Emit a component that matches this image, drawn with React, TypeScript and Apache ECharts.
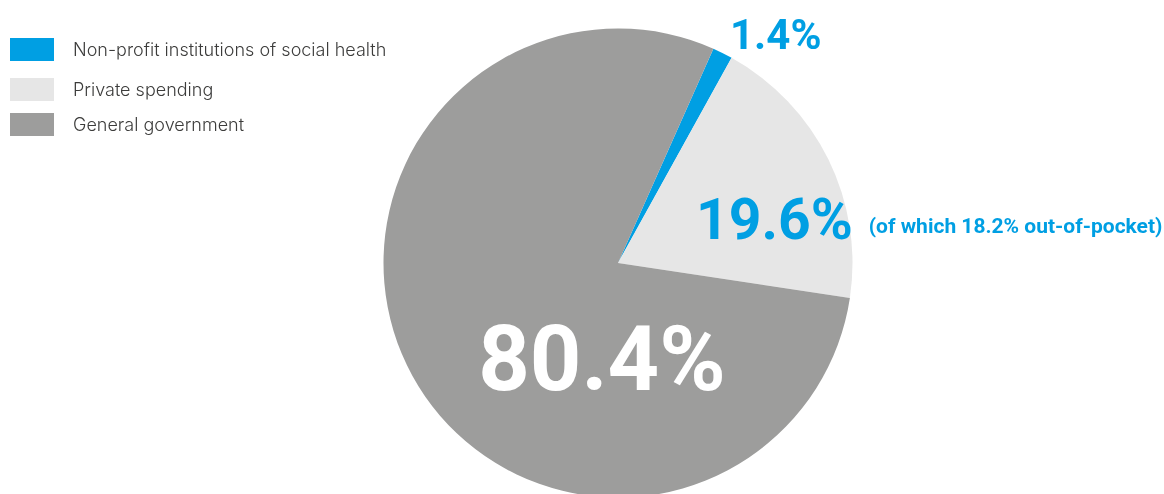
import React, { useEffect, useRef } from "react";
import * as echarts from "echarts";

const categories = ["Non-profit institutions of social health", "Private spending", "General government"];
const values = [1.4, 19.6, 80.4];
const colors = ["#009FE3", "#E6E6E6", "#9D9D9C"];
const privateNote = "(of which 18.2% out-of-pocket)";

// label anchor positions [x, y, align]
const labelPos: [number, number, string][] = [
  [730, 34, "left"],
  [696, 219, "left"],
  [602, 359, "center"],
];
const legendTops = [38, 78, 113];

export default function App() {
  const ref = useRef<HTMLDivElement>(null);
  useEffect(() => {
    const chart = echarts.init(ref.current!, undefined, { renderer: "svg" });
    const font = "Roboto, 'Noto Sans', sans-serif";
    const legendFont = "Inter, 'Noto Sans', sans-serif";
    chart.setOption({
      animation: false,
      legend: categories.map((c, i) => ({
        data: [c],
        left: 10,
        top: legendTops[i],
        padding: 0,
        orient: "vertical",
        icon: "rect",
        itemWidth: 44,
        itemHeight: 23,
        selectedMode: false,
        textStyle: {
          fontFamily: legendFont,
          fontWeight: 300,
          fontSize: 18,
          color: "#3C3C3B",
          padding: [0, 0, 4, 14],
        },
      })),
      series: [
        {
          type: "pie",
          center: [618, 263],
          radius: 234.5,
          startAngle: 66,
          clockwise: true,
          itemStyle: { borderWidth: 0 },
          labelLine: { show: false },
          emphasis: { disabled: true },
          data: categories.map((c, i) => ({
            name: c,
            value: values[i],
            itemStyle: { color: colors[i] },
          })),
          label: {
            show: true,
            position: "outside",
            overflow: "none",
            fontFamily: font,
            formatter: (p: any) => {
              const v = values[p.dataIndex].toFixed(1) + "%";
              if (p.dataIndex === 0) return `{a|${v}}`;
              if (p.dataIndex === 1) return `{b|${v}}{g|}{s|${privateNote}}`;
              return `{c|${v}}`;
            },
            rich: {
              a: { fontFamily: font, fontWeight: 700, fontSize: 42, color: "#009FE3" },
              b: { fontFamily: font, fontWeight: 700, fontSize: 57, color: "#009FE3" },
              g: { width: 16 },
              s: { fontFamily: font, fontWeight: 700, fontSize: 21, color: "#009FE3", padding: [14, 0, 0, 0] },
              c: { fontFamily: font, fontWeight: 700, fontSize: 90, color: "#FFFFFF" },
            },
          },
          labelLayout: (params: any) => {
            const p = labelPos[params.dataIndex];
            return { x: p[0], y: p[1], align: p[2], verticalAlign: "middle", hideOverlap: false };
          },
        },
      ],
    });
    return () => chart.dispose();
  }, []);
  return <div ref={ref} style={{ position: "fixed", left: 0, top: 0, width: 1164, height: 494 }} />;
}
